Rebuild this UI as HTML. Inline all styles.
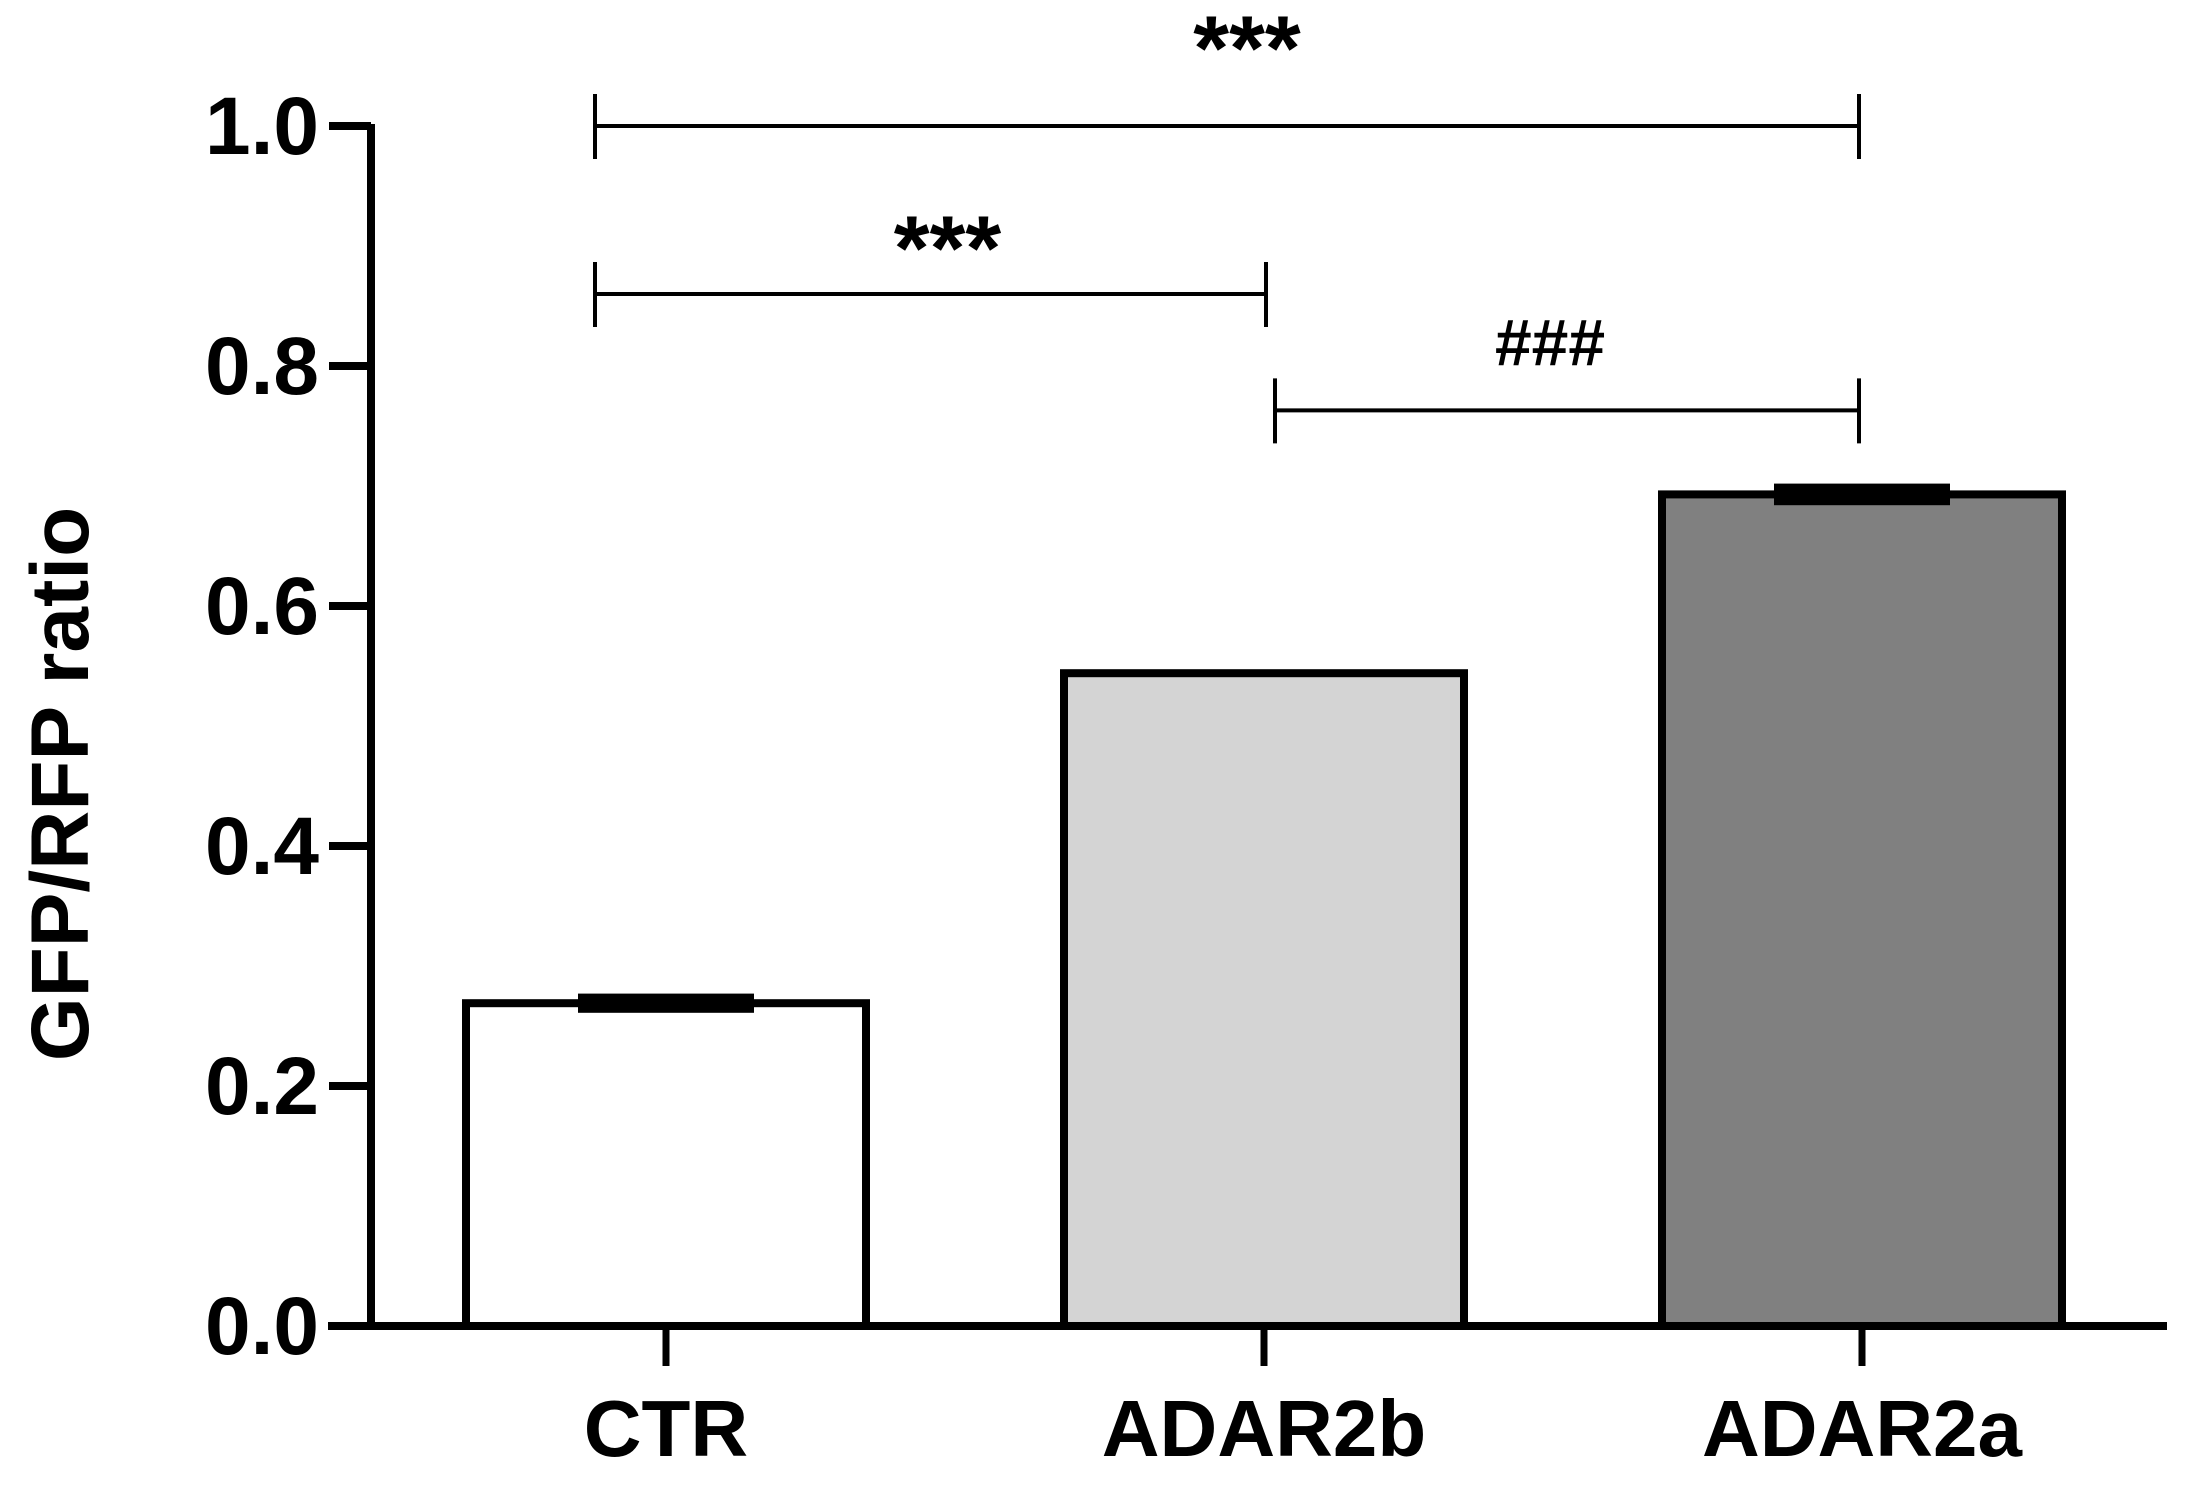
<!DOCTYPE html>
<html><head><meta charset="utf-8"><style>
html,body{margin:0;padding:0;background:#fff;}
svg{display:block;font-family:"Liberation Sans",Arial,sans-serif;font-weight:bold;}
</style></head><body>
<svg id="chart" width="2188" height="1490" viewBox="0 0 2188 1490">
<g id="g"></g>
</svg>
<script>
const categories=["CTR","ADAR2b","ADAR2a"];
const values=[0.269,0.544,0.693];
const errors=[0.008,0.003,0.009];
const fills=["#ffffff","#d4d4d4","#808080"];
const yTicks=[0.0,0.2,0.4,0.6,0.8,1.0];
const yTickLabels=["0.0","0.2","0.4","0.6","0.8","1.0"];
const brackets=[{a:0,b:2,y:1.0,label:"***"},{a:0,b:1,y:0.86,label:"***"},{a:1,b:2,y:0.763,label:"###"}];

const NS="http://www.w3.org/2000/svg";
const g=document.getElementById('g');
const y0=1326,yTop=126;
function ys(v){return y0-(v/1.0)*(y0-yTop);}
const cx0=666,step=598,barW=400;
function xs(i){return cx0+i*step;}
function mk(tag,attrs,parent){const e=document.createElementNS(NS,tag);for(const k in attrs)e.setAttribute(k,attrs[k]);(parent||g).appendChild(e);return e;}

values.forEach((v,i)=>{
  const r=mk('rect',{x:xs(i)-barW/2,y:ys(v),width:barW,height:y0-ys(v),fill:fills[i],stroke:'#000','stroke-width':8});
  
  
  const e=mk('rect',{x:xs(i)-88,y:ys(v+errors[i]),width:176,height:Math.max(6,ys(v-errors[i])-ys(v+errors[i])),fill:'#000'});
  
  
});

const ya=mk('line',{x1:371,y1:124,x2:371,y2:1330,stroke:'#000','stroke-width':8});


const xa=mk('line',{x1:328,y1:y0,x2:2167,y2:y0,stroke:'#000','stroke-width':8});



yTicks.forEach((t,i)=>{
  const tk=mk('line',{x1:329,y1:ys(t),x2:371,y2:ys(t),stroke:'#000','stroke-width':8});
  
  
  const tl=mk('text',{x:319,y:ys(t)+28,'text-anchor':'end','font-size':82,fill:'#000'});
  tl.textContent=yTickLabels[i];
  
  
});

categories.forEach((c,i)=>{
  const tk=mk('line',{x1:xs(i),y1:y0,x2:xs(i),y2:1366,stroke:'#000','stroke-width':7});
  
  
  const tl=mk('text',{x:xs(i),y:1456,'text-anchor':'middle','font-size':80,fill:'#000'});
  tl.textContent=c;
  
  
});

const yl=mk('text',{x:0,y:0,'text-anchor':'middle','font-size':82,fill:'#000',transform:'translate(88,784) rotate(-90)'});
yl.textContent='GFP/RFP ratio';



const labelDx=[20,17,-17], labelDy=[-46,-14,-45];
brackets.forEach((b,k)=>{
  const y=ys(b.y);
  const x1=xs(b.a)+(b.a===0?-71:11),x2=xs(b.b)+(b.b===2?-3:2);
  const grp=mk('g',{});
  
  
  mk('line',{x1:x1,y1:y,x2:x2,y2:y,stroke:'#000','stroke-width':4},grp);
  mk('line',{x1:x1,y1:y-32,x2:x1,y2:y+33,stroke:'#000','stroke-width':4},grp);
  mk('line',{x1:x2,y1:y-32,x2:x2,y2:y+33,stroke:'#000','stroke-width':4},grp);
  const isHash=b.label==='###';
  const t=mk('text',{x:(x1+x2)/2+labelDx[k],y:y+labelDy[k],'text-anchor':'middle','font-size':isHash?66:92,fill:'#000'},grp);
  t.textContent=b.label;
  
  
});
</script>
</body></html>
